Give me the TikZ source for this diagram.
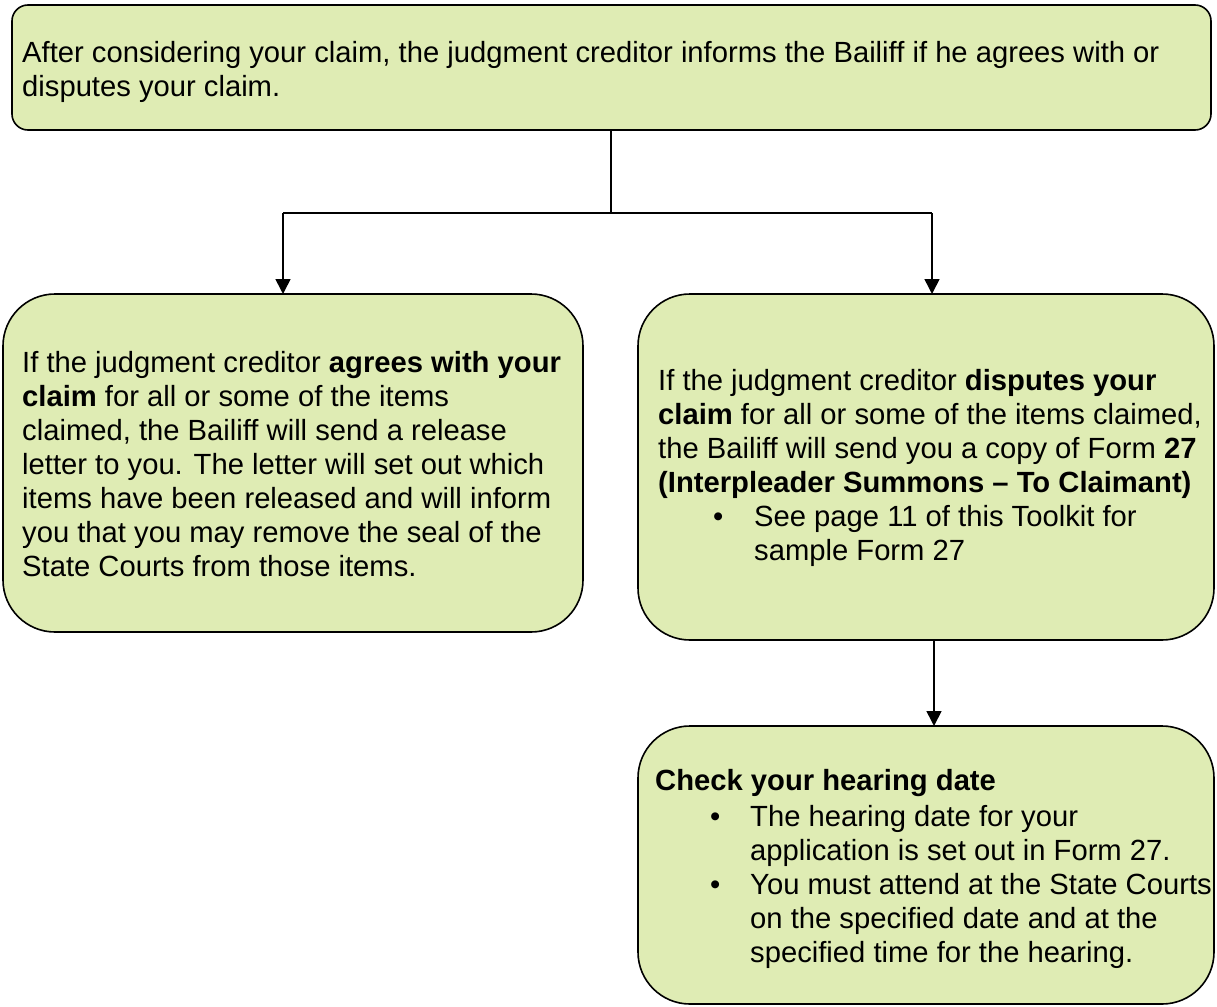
\documentclass[tikz,border=0pt]{standalone}
\usepackage{fontspec}
\setmainfont{Liberation Sans}
\usetikzlibrary{arrows.meta}
\definecolor{boxfill}{RGB}{223,236,180}
\newcommand{\mylines}[1]{\begin{tabular}[t]{@{}l@{}}#1\end{tabular}}
\begin{document}
\begin{tikzpicture}[x=1pt,y=-1pt,
  box/.style={draw=black,line width=1.6pt,fill=boxfill,inner sep=0pt,outer sep=0pt},
  txt/.style={anchor=base west,inner sep=0pt,font=\fontsize{29.2}{34}\selectfont},
  conn/.style={line width=1.6pt},
  arr/.style={line width=1.6pt,-{Triangle[length=15pt,width=15pt]}}]
\useasboundingbox (0,0) rectangle (1217,1006);
% boxes
\node[box,rounded corners=16pt,minimum width=1199pt,minimum height=125pt] (top) at (611.5,67.5) {};
\node[box,rounded corners=52pt,minimum width=580pt,minimum height=338pt] (left) at (293,463) {};
\node[box,rounded corners=52pt,minimum width=576pt,minimum height=346pt] (right) at (926,467) {};
\node[box,rounded corners=52pt,minimum width=576pt,minimum height=278pt] (bottom) at (926,865) {};
% texts
\node[txt] (ttop) at (22,63) {\mylines{After considering your claim, the judgment creditor informs the Bailiff if he agrees with or\\disputes your claim.}};
\node[txt] (tleft) at (22,372) {\mylines{If the judgment creditor \textbf{agrees with your}\\\textbf{claim} for all or some of the items\\claimed, the Bailiff will send a release\\letter to you. The letter will set out which\\items have been released and will inform\\you that you may remove the seal of the\\State Courts from those items.}};
\node[txt] (tright) at (658,390) {\mylines{If the judgment creditor \textbf{disputes your}\\\textbf{claim} for all or some of the items claimed,\\the Bailiff will send you a copy of Form \textbf{27}\\\textbf{(Interpleader Summons – To Claimant)}}};
\node[txt] (b1) at (713,526) {•};
\node[txt] (tright2) at (754,526) {\mylines{See page 11 of this Toolkit for\\sample Form 27}};
\node[txt] (tbot) at (655,790) {\textbf{Check your hearing date}};
\node[txt] (b2) at (710,826) {•};
\node[txt] (tbot2) at (750,826) {\mylines{The hearing date for your\\application is set out in Form 27.}};
\node[txt] (b3) at (710,894) {•};
\node[txt] (tbot3) at (750,894) {\mylines{You must attend at the State Courts\\on the specified date and at the\\specified time for the hearing.}};
% connectors
\coordinate (split) at (611,213);
\coordinate (jL) at (283,213);
\coordinate (jR) at (932,213);
\coordinate (jB) at (934,640);
\draw[conn] (split |- top.south) -- (split);
\draw[conn] (jL) -- (jR);
\draw[arr] (jL) -- (jL |- left.north);
\draw[arr] (jR) -- (jR |- right.north);
\draw[arr] (jB) -- (jB |- bottom.north);
\end{tikzpicture}
\end{document}
